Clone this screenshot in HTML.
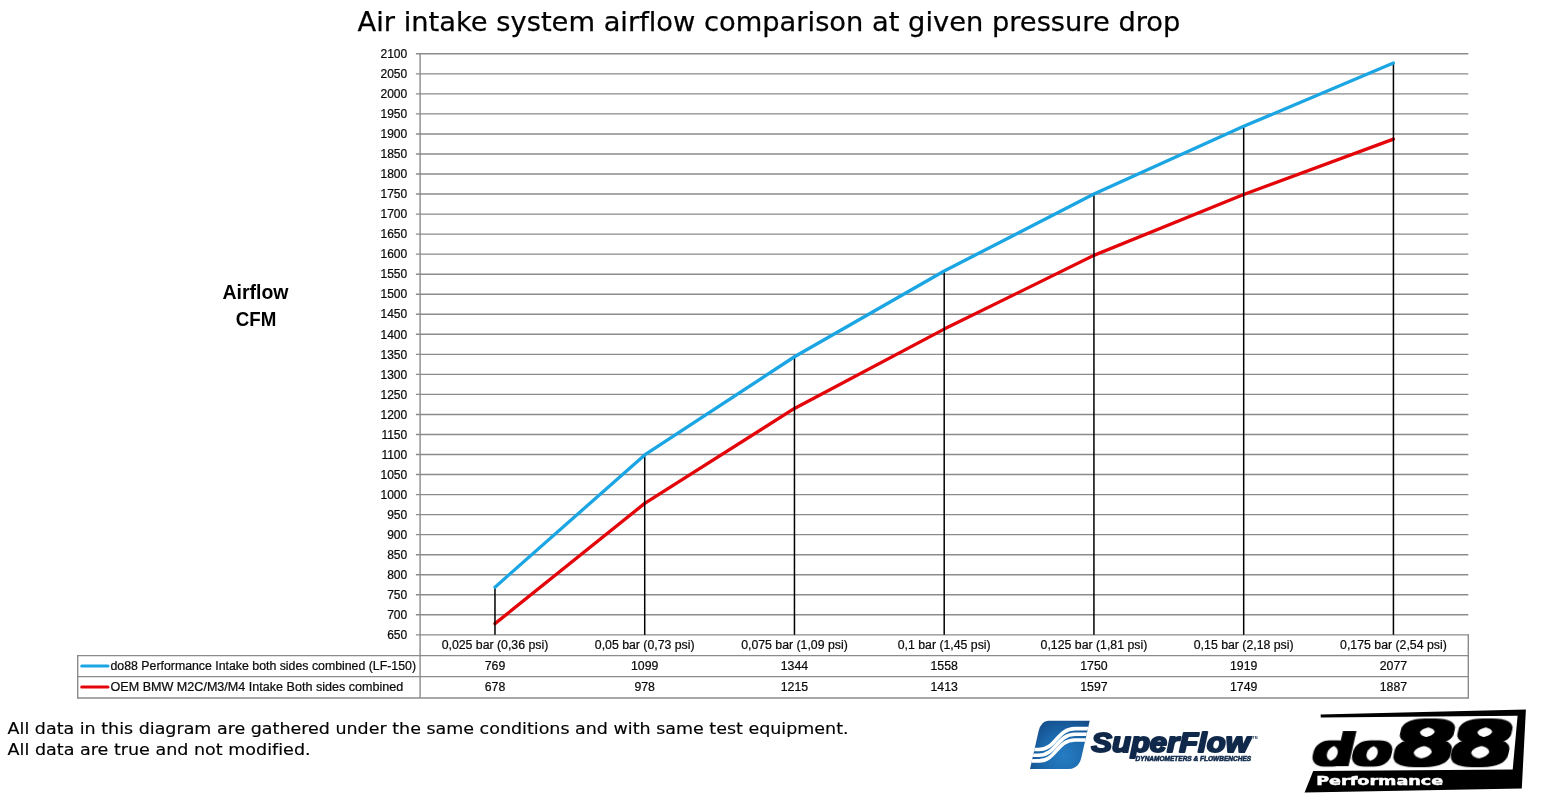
<!DOCTYPE html>
<html lang="en"><head><meta charset="utf-8"><title>Air intake system airflow comparison</title>
<style>
html,body{margin:0;padding:0;background:#fff;}
body{width:1546px;height:802px;overflow:hidden;position:relative;}
svg{position:absolute;left:0;top:0;display:block;}
text{font-variant-ligatures:none;font-kerning:normal;}
.cal{font-family:"Liberation Sans",sans-serif;font-size:12px;fill:#0a0a0a;stroke:#0a0a0a;stroke-width:0.22px;}
.tb{font-size:12.3px;}
.ver{font-family:"DejaVu Sans","Liberation Sans",sans-serif;fill:#000;}
.calb{font-family:"Liberation Sans",sans-serif;font-weight:bold;font-size:19.6px;fill:#000;}
</style></head><body>
<svg width="1546" height="802" viewBox="0 0 1546 802">
<rect width="1546" height="802" fill="#ffffff"/>
<text class="ver" x="357.6" y="31.2" font-size="27.2" stroke="#000" stroke-width="0.25" textLength="822.8" lengthAdjust="spacingAndGlyphs">Air intake system airflow comparison at given pressure drop</text>
<g stroke="#8b8b8b" stroke-width="1.4" fill="none">
<line x1="415.9" y1="634.85" x2="1468.3" y2="634.85"/>
<line x1="415.9" y1="614.81" x2="1468.3" y2="614.81"/>
<line x1="415.9" y1="594.78" x2="1468.3" y2="594.78"/>
<line x1="415.9" y1="574.74" x2="1468.3" y2="574.74"/>
<line x1="415.9" y1="554.71" x2="1468.3" y2="554.71"/>
<line x1="415.9" y1="534.67" x2="1468.3" y2="534.67"/>
<line x1="415.9" y1="514.63" x2="1468.3" y2="514.63"/>
<line x1="415.9" y1="494.60" x2="1468.3" y2="494.60"/>
<line x1="415.9" y1="474.56" x2="1468.3" y2="474.56"/>
<line x1="415.9" y1="454.53" x2="1468.3" y2="454.53"/>
<line x1="415.9" y1="434.49" x2="1468.3" y2="434.49"/>
<line x1="415.9" y1="414.45" x2="1468.3" y2="414.45"/>
<line x1="415.9" y1="394.42" x2="1468.3" y2="394.42"/>
<line x1="415.9" y1="374.38" x2="1468.3" y2="374.38"/>
<line x1="415.9" y1="354.35" x2="1468.3" y2="354.35"/>
<line x1="415.9" y1="334.31" x2="1468.3" y2="334.31"/>
<line x1="415.9" y1="314.27" x2="1468.3" y2="314.27"/>
<line x1="415.9" y1="294.24" x2="1468.3" y2="294.24"/>
<line x1="415.9" y1="274.20" x2="1468.3" y2="274.20"/>
<line x1="415.9" y1="254.17" x2="1468.3" y2="254.17"/>
<line x1="415.9" y1="234.13" x2="1468.3" y2="234.13"/>
<line x1="415.9" y1="214.09" x2="1468.3" y2="214.09"/>
<line x1="415.9" y1="194.06" x2="1468.3" y2="194.06"/>
<line x1="415.9" y1="174.02" x2="1468.3" y2="174.02"/>
<line x1="415.9" y1="153.99" x2="1468.3" y2="153.99"/>
<line x1="415.9" y1="133.95" x2="1468.3" y2="133.95"/>
<line x1="415.9" y1="113.91" x2="1468.3" y2="113.91"/>
<line x1="415.9" y1="93.88" x2="1468.3" y2="93.88"/>
<line x1="415.9" y1="73.84" x2="1468.3" y2="73.84"/>
<line x1="415.9" y1="53.81" x2="1468.3" y2="53.81"/>
<line x1="420.1" y1="53.81" x2="420.1" y2="698"/>
</g>
<g class="cal" text-anchor="end">
<text x="407.2" y="639.05">650</text>
<text x="407.2" y="619.01">700</text>
<text x="407.2" y="598.98">750</text>
<text x="407.2" y="578.94">800</text>
<text x="407.2" y="558.91">850</text>
<text x="407.2" y="538.87">900</text>
<text x="407.2" y="518.83">950</text>
<text x="407.2" y="498.80">1000</text>
<text x="407.2" y="478.76">1050</text>
<text x="407.2" y="458.73">1100</text>
<text x="407.2" y="438.69">1150</text>
<text x="407.2" y="418.65">1200</text>
<text x="407.2" y="398.62">1250</text>
<text x="407.2" y="378.58">1300</text>
<text x="407.2" y="358.55">1350</text>
<text x="407.2" y="338.51">1400</text>
<text x="407.2" y="318.47">1450</text>
<text x="407.2" y="298.44">1500</text>
<text x="407.2" y="278.40">1550</text>
<text x="407.2" y="258.37">1600</text>
<text x="407.2" y="238.33">1650</text>
<text x="407.2" y="218.29">1700</text>
<text x="407.2" y="198.26">1750</text>
<text x="407.2" y="178.22">1800</text>
<text x="407.2" y="158.19">1850</text>
<text x="407.2" y="138.15">1900</text>
<text x="407.2" y="118.11">1950</text>
<text x="407.2" y="98.08">2000</text>
<text x="407.2" y="78.04">2050</text>
<text x="407.2" y="58.01">2100</text>
</g>
<polyline points="494.97,623.63 644.71,503.41 794.46,408.44 944.20,329.10 1093.94,255.37 1243.69,194.46 1393.43,139.16" fill="none" stroke="#e30509" stroke-width="3.3" stroke-linejoin="round" stroke-linecap="round"/>
<g stroke="#000" stroke-width="1.5">
<line x1="494.97" y1="587.16" x2="494.97" y2="634.85"/>
<line x1="644.71" y1="454.93" x2="644.71" y2="634.85"/>
<line x1="794.46" y1="356.75" x2="794.46" y2="634.85"/>
<line x1="944.20" y1="271.00" x2="944.20" y2="634.85"/>
<line x1="1093.94" y1="194.06" x2="1093.94" y2="634.85"/>
<line x1="1243.69" y1="126.34" x2="1243.69" y2="634.85"/>
<line x1="1393.43" y1="63.02" x2="1393.43" y2="634.85"/>
</g>
<polyline points="494.97,587.16 644.71,454.93 794.46,356.75 944.20,271.00 1093.94,194.06 1243.69,126.34 1393.43,63.02" fill="none" stroke="#1ba6e3" stroke-width="3.3" stroke-linejoin="round" stroke-linecap="round"/>
<g stroke="#8b8b8b" stroke-width="1.4" fill="none">
<line x1="77.7" y1="655.65" x2="1468.3" y2="655.65"/>
<line x1="77.7" y1="676.6" x2="1468.3" y2="676.6"/>
<line x1="77.7" y1="698" x2="1468.3" y2="698"/>
<line x1="77.7" y1="655" x2="77.7" y2="698.65"/>
<line x1="1468.3" y1="634.20" x2="1468.3" y2="698.65"/>
</g>
<line x1="81.7" y1="666.0" x2="108.0" y2="666.0" stroke="#1ba6e3" stroke-width="3" stroke-linecap="round"/>
<line x1="81.7" y1="687.0" x2="108.0" y2="687.0" stroke="#e30509" stroke-width="3" stroke-linecap="round"/>
<text class="cal tb" x="110.5" y="669.8" textLength="305.5" lengthAdjust="spacingAndGlyphs">do88 Performance Intake both sides combined (LF-150)</text>
<text class="cal tb" x="110.5" y="690.8" textLength="292.8" lengthAdjust="spacingAndGlyphs">OEM BMW M2C/M3/M4 Intake Both sides combined</text>
<g class="cal tb" text-anchor="middle">
<text x="494.97" y="649.3">0,025 bar (0,36 psi)</text>
<text x="494.97" y="669.8">769</text>
<text x="494.97" y="690.9">678</text>
<text x="644.71" y="649.3">0,05 bar (0,73 psi)</text>
<text x="644.71" y="669.8">1099</text>
<text x="644.71" y="690.9">978</text>
<text x="794.46" y="649.3">0,075 bar (1,09 psi)</text>
<text x="794.46" y="669.8">1344</text>
<text x="794.46" y="690.9">1215</text>
<text x="944.20" y="649.3">0,1 bar (1,45 psi)</text>
<text x="944.20" y="669.8">1558</text>
<text x="944.20" y="690.9">1413</text>
<text x="1093.94" y="649.3">0,125 bar (1,81 psi)</text>
<text x="1093.94" y="669.8">1750</text>
<text x="1093.94" y="690.9">1597</text>
<text x="1243.69" y="649.3">0,15 bar (2,18 psi)</text>
<text x="1243.69" y="669.8">1919</text>
<text x="1243.69" y="690.9">1749</text>
<text x="1393.43" y="649.3">0,175 bar (2,54 psi)</text>
<text x="1393.43" y="669.8">2077</text>
<text x="1393.43" y="690.9">1887</text>
</g>
<text class="calb" x="222.5" y="299.4" textLength="66" lengthAdjust="spacingAndGlyphs">Airflow</text>
<text class="calb" x="235.8" y="325.7" textLength="40.6" lengthAdjust="spacingAndGlyphs">CFM</text>
<text class="ver" x="7.6" y="734.2" font-size="15.7" stroke="#000" stroke-width="0.15" textLength="841" lengthAdjust="spacingAndGlyphs">All data in this diagram are gathered under the same conditions and with same test equipment.</text>
<text class="ver" x="7.6" y="754.9" font-size="15.7" stroke="#000" stroke-width="0.15" textLength="303" lengthAdjust="spacingAndGlyphs">All data are true and not modified.</text>
<!-- SuperFlow logo -->
<defs>
<radialGradient id="sfg" gradientUnits="userSpaceOnUse" cx="1064" cy="756" r="44">
<stop offset="0" stop-color="#267dc2"/>
<stop offset="0.5" stop-color="#1c69ad"/>
<stop offset="1" stop-color="#124884"/>
</radialGradient>
<clipPath id="sfclip">
<path d="M1048.5,720.8 L1089.7,720.8 L1081.5,757 Q1079,769.1 1068,769.1 L1030,769.1 L1038.5,731.5 Q1041,720.8 1048.5,720.8 Z"/>
</clipPath>
<filter id="fat88" x="-20%" y="-20%" width="140%" height="140%"><feMorphology operator="dilate" radius="3 2"/></filter>
<filter id="fatdo" x="-20%" y="-20%" width="140%" height="140%"><feMorphology operator="dilate" radius="2.6 1"/></filter>
</defs>
<g clip-path="url(#sfclip)">
<rect x="1025" y="715" width="70" height="60" fill="url(#sfg)"/>
<g fill="none" stroke="#ffffff" stroke-width="3.6">
<path id="sfw" d="M1025,755.2 L1039,755.2 C1056,755.2 1057,734.3 1075,734.3 L1095,734.3"/>
<path d="M1025,755.2 L1039,755.2 C1056,755.2 1057,734.3 1075,734.3 L1095,734.3" transform="translate(0,-5.7)"/>
<path d="M1025,755.2 L1039,755.2 C1056,755.2 1057,734.3 1075,734.3 L1095,734.3" transform="translate(0,5.7)"/>
</g>
</g>
<text x="1091.3" y="752.3" font-family="'Liberation Sans',sans-serif" font-weight="bold" font-style="italic" font-size="27.6" fill="#10294b" stroke="#10294b" stroke-width="2" stroke-linejoin="round" textLength="158.5" lengthAdjust="spacingAndGlyphs">SuperFlow</text>
<text x="1135.6" y="760.8" font-family="'Liberation Sans',sans-serif" font-weight="bold" font-style="italic" font-size="6.9" fill="#10294b" stroke="#10294b" stroke-width="0.55" textLength="115.5" lengthAdjust="spacingAndGlyphs">DYNAMOMETERS &amp; FLOWBENCHES</text>
<text x="1252.6" y="738.6" font-family="'Liberation Sans',sans-serif" font-weight="bold" font-size="3.4" fill="#10294b">TM</text>
<!-- do88 logo -->
<!--FRAME--><path d="M1320.6,714.6 L1525.9,709.6 L1521.8,788.6 L1304.6,792.4 L1313.2,770.9 L1512.7,769.5 L1517.6,715.7 L1320.8,717.6 Z" fill="#000"/>
<g font-family="'DejaVu Sans','Liberation Sans',sans-serif" fill="#000">
<g transform="translate(1311,765.2) skewX(-12.8) scale(1.43,1)"><text filter="url(#fatdo)" x="0" y="0" font-size="43.4" letter-spacing="0">do</text></g>
<g transform="translate(1390,764.3) skewX(-12.8) scale(1.6,1)"><text filter="url(#fat88)" x="0" y="0" font-size="59" letter-spacing="-1.6">88</text></g>
</g>
<text x="1316.2" y="784.8" font-family="'DejaVu Sans','Liberation Sans',sans-serif" font-weight="bold" font-size="12.8" fill="#fff" stroke="#fff" stroke-width="0.5" textLength="127" lengthAdjust="spacingAndGlyphs">Performance</text>

</svg>
</body></html>
